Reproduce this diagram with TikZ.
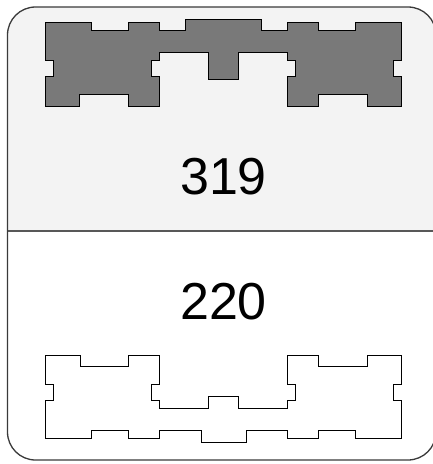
\documentclass[tikz,border=0pt]{standalone}
\usepackage{fontspec}
\setmainfont{Liberation Sans}
\definecolor{topfill}{HTML}{F3F3F3}
\definecolor{blockfill}{HTML}{797979}
\definecolor{framecol}{HTML}{3A3A3A}
\begin{document}
\begin{tikzpicture}[x=1pt,y=-1pt,
  frame/.style={draw=framecol,line width=1.3pt,rounded corners=28pt},
  divider/.style={draw=framecol!85!white,line width=1.3pt},
  blockfilled/.style={fill=blockfill,draw=black,line width=0.9pt},
  blockempty/.style={fill=white,draw=black,line width=0.9pt},
  number/.style={font=\fontsize{52}{60}\selectfont,inner sep=0pt,text=black}]
\useasboundingbox (0,0) rectangle (433,464);
\begin{scope}
  \clip[rounded corners=28pt] (7.5,7) rectangle (436,460);
  \fill[topfill] (0,0) rectangle (440,231);
\end{scope}
\draw[divider] (7.5,231) -- (436,231);
\draw[frame] (7.5,7) rectangle (436,460);
% top building
\draw[blockfilled] (45.3,22.7) -- (91,22.7) -- (91,30.3) -- (128.7,30.3) -- (128.7,22.7) -- (159.3,22.7) -- (159.3,30.3) -- (185.3,30.3) -- (185.3,19) -- (261.3,19) -- (261.3,30.3) -- (287.7,30.3) -- (287.7,22.7) -- (318.3,22.7) -- (318.3,30.3) -- (355.7,30.3) -- (355.7,22.7) -- (401.7,22.7) -- (401.7,60.3) -- (393.7,60.3) -- (393.7,76) -- (401.7,76) -- (401.7,106) -- (367,106) -- (367,94.7) -- (318.7,94.7) -- (318.7,106) -- (287.7,106) -- (287.7,76) -- (295.3,76) -- (295.3,60.3) -- (287.7,60.3) -- (287.7,52.3) -- (238.7,52.3) -- (238.7,79.3) -- (208.7,79.3) -- (208.7,52.3) -- (159.3,52.3) -- (159.3,60.3) -- (151.7,60.3) -- (151.7,76) -- (159.3,76) -- (159.3,106) -- (128.7,106) -- (128.7,94.7) -- (79.7,94.7) -- (79.7,106) -- (45.3,106) -- (45.3,76) -- (53.3,76) -- (53.3,60.3) -- (45.3,60.3) -- cycle;
% bottom building
\draw[blockempty] (45.3,355) -- (80,355) -- (80,366) -- (128.7,366) -- (128.7,355) -- (159.3,355) -- (159.3,384.7) -- (151.3,384.7) -- (151.3,400.7) -- (159.3,400.7) -- (159.3,408.3) -- (208.7,408.3) -- (208.7,396.7) -- (238.7,396.7) -- (238.7,408.3) -- (287.7,408.3) -- (287.7,400.7) -- (295.3,400.7) -- (295.3,384.7) -- (287.7,384.7) -- (287.7,355) -- (318.3,355) -- (318.3,366) -- (367,366) -- (367,355) -- (401.7,355) -- (401.7,384.7) -- (393.7,384.7) -- (393.7,400.7) -- (401.7,400.7) -- (401.7,438.7) -- (355.7,438.7) -- (355.7,430.3) -- (318.3,430.3) -- (318.3,438.7) -- (287.7,438.7) -- (287.7,430.3) -- (246,430.3) -- (246,442) -- (201,442) -- (201,430.3) -- (159.3,430.3) -- (159.3,438.7) -- (128.7,438.7) -- (128.7,430.3) -- (91,430.3) -- (91,438.7) -- (45.3,438.7) -- (45.3,400.7) -- (53.3,400.7) -- (53.3,384.7) -- (45.3,384.7) -- cycle;
\node[number] (top) at (223.5,177) {319};
\node[number] (bottom) at (223.5,301.7) {220};
\end{tikzpicture}
\end{document}
